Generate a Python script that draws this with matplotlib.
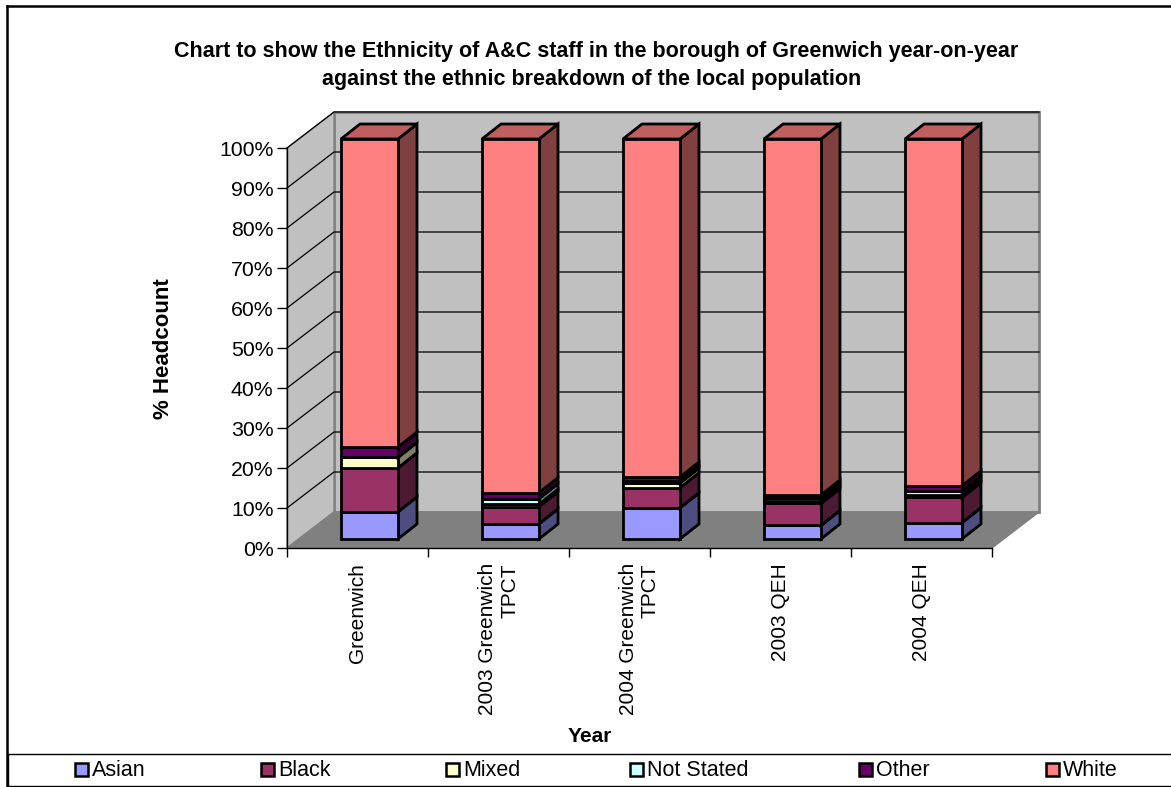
import matplotlib
matplotlib.use("Agg")
import matplotlib.pyplot as plt
from matplotlib.patches import Polygon, Rectangle
from matplotlib.lines import Line2D
from matplotlib.colors import to_rgb
import numpy as np

plt.rcParams['font.family'] = ['Liberation Sans', 'DejaVu Sans']

# ---------------- data ----------------
categories = ["Greenwich", "2003 Greenwich\nTPCT", "2004 Greenwich\nTPCT", "2003 QEH", "2004 QEH"]
series_names = ["Asian", "Black", "Mixed", "Not Stated", "Other", "White"]
asian = [6.8, 3.8, 7.8, 3.4, 4.1]
black = [11.0, 4.3, 5.0, 5.5, 6.3]
mixed = [2.6, 0.6, 1.2, 0.7, 0.6]
not_stated = [0.0, 1.4, 0.5, 0.7, 0.9]
other = [2.6, 1.5, 1.0, 0.7, 1.4]
white = [77.0, 88.4, 84.5, 89.0, 86.7]
yticks = [0, 10, 20, 30, 40, 50, 60, 70, 80, 90, 100]
ytick_labels = [f"{v}%" for v in yticks]

colors = ['#9999FF', '#993366', '#FFFFCC', '#CCFFFF', '#660066', '#FF8080']

# ---------------- layout ----------------
W_PX, H_PX, DPI = 1171, 787, 100
fig = plt.figure(figsize=(W_PX / DPI, H_PX / DPI), dpi=DPI)
fig.patch.set_facecolor('white')

def fx(px):
    return px / W_PX

def fy(py):
    return 1 - py / H_PX

ax = fig.add_axes([fx(287), fy(548), (992 - 287) / W_PX, 400 / H_PX])
ax.set_xlim(0, 5)
ax.set_ylim(0, 100)
ax.patch.set_visible(False)

PX_X = 705 / 5.0
PX_Y = 4.0

def d(px, py):
    return np.array([px / PX_X, py / PX_Y])

WALL = d(47, 36)
FRONT = d(12, 9)
DEPTH = d(19, 15)
BW = 57 / PX_X

def shade(c, f):
    r, g, b = to_rgb(c)
    return (r * f, g * f, b * f)

def P(pts, **kw):
    p = Polygon(np.array(pts), closed=True, clip_on=False, **kw)
    ax.add_patch(p)
    return p

# walls and floor
P([np.array([0, 0]) + WALL, np.array([5, 0]) + WALL, np.array([5, 100]) + WALL, np.array([0, 100]) + WALL],
  facecolor='#C0C0C0', edgecolor='#808080', lw=2.0, zorder=0.5)
P([[0, 0], [0, 100], np.array([0, 100]) + WALL, np.array([0, 0]) + WALL],
  facecolor='#C0C0C0', edgecolor='#808080', lw=1.0, zorder=0.6)
P([[0, 0], [5, 0], np.array([5, 0]) + WALL, np.array([0, 0]) + WALL],
  facecolor='#808080', edgecolor='#808080', lw=1.0, zorder=0.7)

for v in yticks[1:]:
    a = np.array([0, v])
    b = a + WALL
    c = np.array([5, v]) + WALL
    ax.add_line(Line2D([a[0], b[0], c[0]], [a[1], b[1], c[1]], color='black',
                       lw=0.9, clip_on=False, zorder=1))

# bars
data = np.array([asian, black, mixed, not_stated, other, white], dtype=float)
data = data / data.sum(axis=0) * 100.0
x_idx = np.arange(len(categories))
centers = x_idx + 0.5 + FRONT[0]
bottoms = np.zeros(len(categories))
EDGE_LW = 2.0
for j, name in enumerate(series_names):
    vals = data[j]
    z = 3 + j * 0.1
    bars = ax.bar(centers, vals, width=BW, bottom=bottoms + FRONT[1], color=colors[j],
                  edgecolor='black', lw=EDGE_LW, zorder=z + 0.02, clip_on=False)
    for i in range(len(categories)):
        if vals[i] <= 0:
            bars[i].set_visible(False)
            continue
        x0 = centers[i] - BW / 2
        x1 = centers[i] + BW / 2
        y0 = bottoms[i] + FRONT[1]
        y1 = y0 + vals[i]
        # side face
        P([[x1, y0], [x1 + DEPTH[0], y0 + DEPTH[1]], [x1 + DEPTH[0], y1 + DEPTH[1]], [x1, y1]],
          facecolor=shade(colors[j], 0.5), edgecolor='black', lw=EDGE_LW, zorder=z, joinstyle='miter')
        # top face
        P([[x0, y1], [x1, y1], [x1 + DEPTH[0], y1 + DEPTH[1]], [x0 + DEPTH[0], y1 + DEPTH[1]]],
          facecolor=shade(colors[j], 0.75), edgecolor='black', lw=EDGE_LW, zorder=z + 0.01, joinstyle='miter')
    bottoms = bottoms + vals

# axes
for s in ['top', 'right']:
    ax.spines[s].set_visible(False)
for s in ['left', 'bottom']:
    ax.spines[s].set_color('black')
    ax.spines[s].set_linewidth(1.0)
    ax.spines[s].set_zorder(2)

ax.set_yticks(yticks)
ax.set_yticklabels(ytick_labels)
ax.tick_params(axis='y', direction='out', length=7.2, width=1.0, pad=2.5, labelsize=15.3)
ax.set_xticks(np.arange(0, 6))
ax.set_xticklabels([])
ax.tick_params(axis='x', which='major', direction='out', length=6.5, width=1.0)
ax.set_xticks(x_idx + 0.5, minor=True)
ax.set_xticklabels(categories, minor=True, rotation=90, fontsize=15)
ax.tick_params(axis='x', which='minor', length=0, pad=10.8)
for lab in ax.get_xticklabels(minor=True):
    lab.set_multialignment('right')
    lab.set_verticalalignment('top')

# texts
fig.text(fx(596), fy(52), "Chart to show the Ethnicity of A&C staff in the borough of Greenwich year-on-year",
         ha='center', va='center', fontsize=15.5, fontweight='bold')
fig.text(fx(592), fy(80), "against the ethnic breakdown of the local population",
         ha='center', va='center', fontsize=15.5, fontweight='bold')
fig.text(fx(163.5), fy(349), "% Headcount", rotation=90, ha='center', va='center',
         fontsize=16, fontweight='bold')
fig.text(fx(590), fy(737), "Year", ha='center', va='center', fontsize=15, fontweight='bold')

# legend
fig.add_artist(Rectangle((fx(8), fy(786)), fx(1185) - fx(8), (786 - 754) / H_PX,
                         transform=fig.transFigure, fill=False, edgecolor='black', lw=1.0))
leg_x = [75, 261, 446, 630, 859, 1046]
for j, name in enumerate(series_names):
    fig.add_artist(Rectangle((fx(leg_x[j]), fy(776)), 13 / W_PX, 13 / H_PX,
                             transform=fig.transFigure, facecolor=colors[j],
                             edgecolor='black', lw=1.8))
    fig.text(fx(leg_x[j] + 17), fy(770), name, ha='left', va='center', fontsize=15.5)

# outer frame
fig.add_artist(Line2D([fx(7), fx(7)], [fy(6), 0], transform=fig.transFigure, color='black', lw=1.8))
fig.add_artist(Line2D([fx(7), 1], [fy(6), fy(6)], transform=fig.transFigure, color='black', lw=1.8))

fig.savefig("out.png", dpi=DPI)
